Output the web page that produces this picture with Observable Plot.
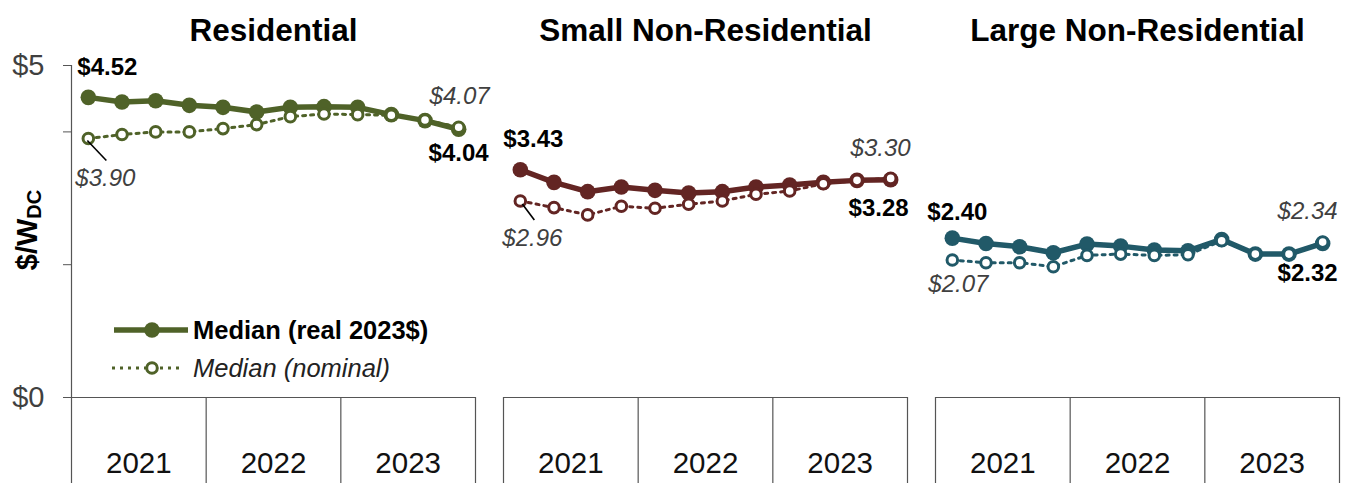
<!DOCTYPE html>
<html>
<head>
<meta charset="utf-8">
<script src="https://cdn.jsdelivr.net/npm/d3@7"></script>
<script src="https://cdn.jsdelivr.net/npm/@observablehq/plot@0.6"></script>
<style>
  html, body { margin: 0; padding: 0; background: #fff; }
  #chart { position: relative; width: 1351px; height: 483px; }
</style>
</head>
<body>
<div id="chart"></div>
<script>
// ---- data ----
const segments = ["Residential", "Small Non-Residential", "Large Non-Residential"];
const segmentColors = ["#4F6228", "#632523", "#215968"];
const years = ["2021", "2022", "2023"];
const quarters = ["Q1", "Q2", "Q3", "Q4"];
const yTicks = [0, 2, 4, 5];
const yTickLabels = ["$0", "", "", "$5"];

const realResidential    = [4.52, 4.45, 4.47, 4.40, 4.37, 4.30, 4.37, 4.38, 4.37, 4.26, 4.17, 4.04];
const nominalResidential = [3.90, 3.96, 4.00, 4.00, 4.05, 4.11, 4.23, 4.27, 4.26, 4.25, 4.18, 4.07];
const realSmall          = [3.43, 3.24, 3.10, 3.17, 3.12, 3.08, 3.10, 3.17, 3.20, 3.24, 3.27, 3.28];
const nominalSmall       = [2.96, 2.86, 2.75, 2.88, 2.85, 2.91, 2.96, 3.06, 3.11, 3.22, 3.27, 3.30];
const realLarge          = [2.40, 2.32, 2.27, 2.18, 2.31, 2.28, 2.22, 2.21, 2.38, 2.16, 2.16, 2.32];
const nominalLarge       = [2.07, 2.03, 2.03, 1.97, 2.14, 2.16, 2.14, 2.15, 2.36, 2.16, 2.16, 2.34];

const legendLabels = ["Median (real 2023$)", "Median (nominal)"];

// ---- build table ----
const series = [
  {segment: segments[0], real: realResidential, nominal: nominalResidential},
  {segment: segments[1], real: realSmall, nominal: nominalSmall},
  {segment: segments[2], real: realLarge, nominal: nominalLarge}
];
const periods = years.flatMap(y => quarters.map(q => y + q));
const rows = series.flatMap(s => s.real.map((v, i) => ({
  segment: s.segment, i, period: periods[i], real: v, nominal: s.nominal[i]
})));
const nQ = quarters.length;
const dividers = d3.range(years.length + 1).map(k => k * nQ - 0.5);
const yearCenters = years.map((y, k) => ({year: y, x: k * nQ + (nQ - 1) / 2}));
const fmt = v => "$" + v.toFixed(2);

// label placement (styling, in code)
const labelPlacement = [
  {fr: {dx: -11, dy: -30}, fn: {dx: -13, dy: 40}, ln: {dx: 31, dy: -31}, lr: {dx: 30, dy: 24}},
  {fr: {dx: -17, dy: -30}, fn: {dx: -18, dy: 37}, ln: {dx: 20, dy: -30}, lr: {dx: 18, dy: 29}},
  {fr: {dx: -25, dy: -26}, fn: {dx: -24, dy: 24}, ln: {dx: 15, dy: -31}, lr: {dx: 15, dy: 30}}
];
const leaderSymbols = [
  {draw(ctx) { ctx.moveTo(-1, 2); ctx.lineTo(18, 22); }},
  {draw(ctx) { ctx.moveTo(2, 3); ctx.lineTo(14, 19); }},
  null
];

const labelMarks = [];
segments.forEach((seg, k) => {
  const first = rows.find(d => d.segment === seg && d.i === 0);
  const last = rows.find(d => d.segment === seg && d.i === periods.length - 1);
  const p = labelPlacement[k];
  labelMarks.push(
    Plot.text([first], {fx: "segment", x: "i", y: "real", text: d => fmt(d.real), textAnchor: "start",
      dx: p.fr.dx, dy: p.fr.dy, fontWeight: "bold", fontSize: 24, fill: "#000"}),
    Plot.text([first], {fx: "segment", x: "i", y: "nominal", text: d => fmt(d.nominal), textAnchor: "start",
      dx: p.fn.dx, dy: p.fn.dy, fontStyle: "italic", fontSize: 24, fill: "#404040"}),
    Plot.text([last], {fx: "segment", x: "i", y: "nominal", text: d => fmt(d.nominal), textAnchor: "end",
      dx: p.ln.dx, dy: p.ln.dy, fontStyle: "italic", fontSize: 24, fill: "#404040"}),
    Plot.text([last], {fx: "segment", x: "i", y: "real", text: d => fmt(d.real), textAnchor: "end",
      dx: p.lr.dx, dy: p.lr.dy, fontWeight: "bold", fontSize: 24, fill: "#000"})
  );
  if (leaderSymbols[k]) {
    labelMarks.push(Plot.dot([first], {fx: "segment", x: "i", y: "nominal", symbol: leaderSymbols[k],
      r: 5, fill: "none", stroke: "#000", strokeWidth: 1.6}));
  }
});

const axisColor = "#555";
const dotted = "3,5";

const chart = Plot.plot({
  width: 1351,
  height: 483,
  marginTop: 65,
  marginBottom: 86,
  marginLeft: 71,
  marginRight: 12,
  style: {fontFamily: "'Liberation Sans', Arial, sans-serif", fontSize: "29px", background: "#fff", overflow: "visible"},
  fx: {domain: segments, paddingInner: 0.065, paddingOuter: 0, axis: null},
  x: {domain: [-0.5, periods.length - 0.5], axis: null},
  y: {domain: [0, 5]},
  color: {domain: segments, range: segmentColors},
  marks: [
    // facet titles
    Plot.text(segments, {fx: d => d, text: d => d, frameAnchor: "top", dy: -47,
      fontWeight: "bold", fontSize: 31.5, fill: "#000"}),
    // y axis (left facet only)
    Plot.axisY({ticks: yTicks, tickFormat: (d, i) => yTickLabels[yTicks.indexOf(d)],
      tickSize: 8, tickPadding: 19, fontSize: 29, label: null, color: "#404040", stroke: axisColor}),
    Plot.ruleX([segments[0]], {fx: d => d, x: () => dividers[0], y1: () => 5, y2: () => 0,
      stroke: axisColor, strokeWidth: 1.2}),
    // baseline and year dividers
    Plot.ruleY([0], {stroke: axisColor, strokeWidth: 1.2}),
    Plot.ruleX(dividers, {x: d => d, y1: () => 0, y2: () => 0, insetBottom: -86, stroke: axisColor, strokeWidth: 1.2}),
    Plot.text(yearCenters, {x: "x", text: "year", frameAnchor: "bottom", dy: 75, fontSize: 29.5, fill: "#111"}),
    // real series
    Plot.line(rows, {fx: "segment", x: "i", y: "real", stroke: "segment", strokeWidth: 5.5}),
    Plot.dot(rows, {fx: "segment", x: "i", y: "real", fill: "segment", r: 7.8}),
    // nominal series
    Plot.line(rows, {fx: "segment", x: "i", y: "nominal", stroke: "segment", strokeWidth: 3, strokeDasharray: dotted}),
    Plot.dot(rows, {fx: "segment", x: "i", y: "nominal", fill: "#fff", stroke: "segment", strokeWidth: 3, r: 5.3}),
    ...labelMarks
  ]
});

document.getElementById("chart").appendChild(chart);

// ---- in-chart legend and y title ----
const svg = d3.select(chart);
const lg = svg.append("g").attr("class", "legend").attr("text-anchor", "start");
const c0 = segmentColors[0];
lg.append("line").attr("x1", 114).attr("x2", 188).attr("y1", 330).attr("y2", 330)
  .attr("stroke", c0).attr("stroke-width", 5.5);
lg.append("circle").attr("cx", 152).attr("cy", 330).attr("r", 7.8).attr("fill", c0);
lg.append("text").attr("x", 193).attr("y", 330).attr("dy", "0.35em").attr("text-anchor", "start")
  .attr("font-size", 25.5).attr("font-weight", "bold").attr("fill", "#000").text(legendLabels[0]);
lg.append("line").attr("x1", 112).attr("x2", 184).attr("y1", 368).attr("y2", 368)
  .attr("stroke", c0).attr("stroke-width", 3).attr("stroke-dasharray", dotted);
lg.append("circle").attr("cx", 152).attr("cy", 368).attr("r", 5.3).attr("fill", "#fff")
  .attr("stroke", c0).attr("stroke-width", 3);
lg.append("text").attr("x", 193).attr("y", 368).attr("dy", "0.35em").attr("text-anchor", "start")
  .attr("font-size", 25.5).attr("font-style", "italic").attr("fill", "#222").text(legendLabels[1]);

const yt = svg.append("text").attr("transform", "translate(37,230) rotate(-90)")
  .attr("text-anchor", "middle").attr("font-weight", "bold").attr("font-size", 29).attr("fill", "#000");
yt.append("tspan").text("$/W");
yt.append("tspan").attr("font-size", 20).attr("dy", "0.2em").text("DC");
</script>
</body>
</html>
